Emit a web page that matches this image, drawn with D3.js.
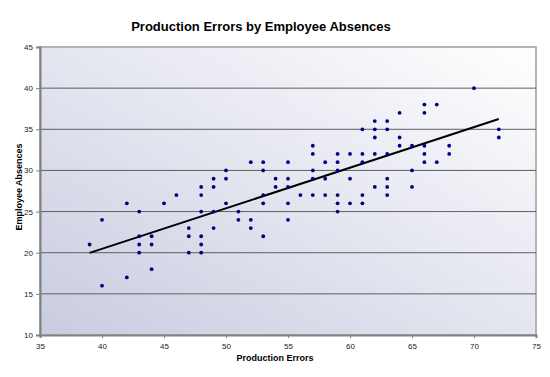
<!DOCTYPE html>
<html>
<head>
<meta charset="utf-8">
<script src="https://cdn.jsdelivr.net/npm/d3@7"></script>
<style>
body { margin: 0; background: #fff; }
text { font-family: "Liberation Sans", Arial, sans-serif; }
</style>
</head>
<body>
<div id="chart"></div>
<script>
// data
var errors = [39, 40, 40, 42, 42, 43, 43, 43, 43, 44, 44, 44, 45, 46,
    47, 47, 47, 48, 48, 48, 48, 48, 48, 49, 49, 49, 49, 50, 50, 50,
    51, 51, 52, 52, 52, 53, 53, 53, 53, 53, 54, 54, 55, 55, 55, 55, 55, 56,
    57, 57, 57, 57, 57, 58, 58, 58, 59, 59, 59, 59, 59, 59, 60, 60, 60,
    61, 61, 61, 61, 61, 62, 62, 62, 62, 62, 63, 63, 63, 63, 63, 63,
    64, 64, 64, 65, 65, 65, 66, 66, 66, 66, 66, 67, 67, 68, 68, 70, 72, 72];
var absences = [21, 24, 16, 26, 17, 25, 22, 21, 20, 22, 21, 18, 26, 27,
    23, 22, 20, 28, 27, 25, 22, 21, 20, 29, 28, 25, 23, 30, 29, 26,
    25, 24, 31, 24, 23, 31, 30, 27, 26, 22, 29, 28, 31, 29, 28, 26, 24, 27,
    33, 32, 30, 29, 27, 31, 29, 27, 32, 31, 30, 27, 26, 25, 32, 29, 26,
    35, 32, 31, 27, 26, 36, 35, 34, 32, 28, 36, 35, 32, 29, 28, 27,
    37, 34, 33, 33, 30, 28, 38, 37, 33, 32, 31, 38, 31, 33, 32, 40, 35, 34];
var xTicks = [35, 40, 45, 50, 55, 60, 65, 70, 75];
var yTicks = [10, 15, 20, 25, 30, 35, 40, 45];

var svgWidth = 550;
var svgHeight = 377;
var margin = { top: 47, right: 14, bottom: 42, left: 40 };
var width = svgWidth - margin.left - margin.right;
var height = svgHeight - margin.top - margin.bottom;

var data = errors.map(function(e, i) { return { x: e, y: absences[i] }; });

var svg = d3.select("#chart").append("svg")
    .attr("width", svgWidth)
    .attr("height", svgHeight);

var defs = svg.append("defs");
var grad = defs.append("linearGradient")
    .attr("id", "bg")
    .attr("x1", "0%").attr("y1", "100%")
    .attr("x2", "100%").attr("y2", "0%");
grad.append("stop").attr("offset", "0%").attr("stop-color", "#c9cce0");
grad.append("stop").attr("offset", "100%").attr("stop-color", "#ffffff");

var g = svg.append("g")
    .attr("transform", `translate(${margin.left}, ${margin.top})`);

var x = d3.scaleLinear().domain([35, 75]).range([0, width]);
var y = d3.scaleLinear().domain([10, 45]).range([height, 0]);

// plot area
g.append("rect")
    .attr("width", width)
    .attr("height", height)
    .attr("fill", "url(#bg)")
    .attr("stroke", "#b4b4b4")
    .attr("stroke-width", 2);

// gridlines
g.selectAll(".grid")
    .data(yTicks.slice(1, -1))
    .enter().append("line")
    .attr("x1", 0).attr("x2", width)
    .attr("y1", function(d) { return y(d); })
    .attr("y2", function(d) { return y(d); })
    .attr("stroke", "#5f5f5f")
    .attr("stroke-width", 1);

// axes
var xAxis = d3.axisBottom(x).tickValues(xTicks).tickSize(3).tickPadding(5);
var yAxis = d3.axisLeft(y).tickValues(yTicks).tickSize(4).tickPadding(3);

var gx = g.append("g")
    .attr("transform", `translate(0, ${height})`)
    .call(xAxis);
var gy = g.append("g").call(yAxis);

[gx, gy].forEach(function(a) {
    a.select(".domain").attr("stroke", "#808080").attr("stroke-width", 2);
    a.selectAll(".tick line").attr("stroke", "#808080");
    a.selectAll(".tick text")
        .attr("fill", "#222")
        .style("font-family", "'Liberation Sans Narrow', 'Liberation Sans', Arial, sans-serif")
        .style("font-size", "8px");
});

// trendline (least squares of the points)
var mx = d3.mean(errors), my = d3.mean(absences);
var slope = d3.sum(data, function(d) { return (d.x - mx) * (d.y - my); }) /
    d3.sum(data, function(d) { return (d.x - mx) * (d.x - mx); });
var icpt = my - slope * mx;
var xr = d3.extent(errors);
g.append("line")
    .attr("x1", x(xr[0])).attr("y1", y(icpt + slope * xr[0]))
    .attr("x2", x(xr[1])).attr("y2", y(icpt + slope * xr[1]))
    .attr("stroke", "#000")
    .attr("stroke-width", 2);

// points
g.selectAll("circle")
    .data(data)
    .enter().append("circle")
    .attr("cx", function(d) { return x(d.x); })
    .attr("cy", function(d) { return y(d.y); })
    .attr("r", 1.9)
    .attr("fill", "#000080");

// titles
svg.append("text")
    .attr("x", 261)
    .attr("y", 31)
    .attr("text-anchor", "middle")
    .attr("font-weight", "bold")
    .attr("font-size", "13px")
    .text("Production Errors by Employee Absences");

svg.append("text")
    .attr("x", 275)
    .attr("y", 361)
    .attr("text-anchor", "middle")
    .attr("font-weight", "bold")
    .attr("font-size", "9px")
    .text("Production Errors");

svg.append("text")
    .attr("transform", "translate(22, 187) rotate(-90)")
    .attr("text-anchor", "middle")
    .attr("font-weight", "bold")
    .attr("font-size", "9px")
    .text("Employee Absences");
</script>
</body>
</html>
